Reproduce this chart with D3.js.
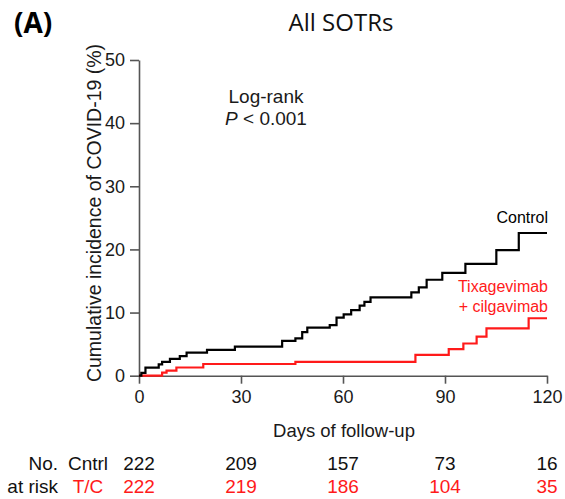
<!DOCTYPE html>
<html lang="en">
<head>
    <meta charset="UTF-8">
    <title>All SOTRs - cumulative incidence</title>
    <script src="https://cdn.jsdelivr.net/npm/d3@7"></script>
    <style>
        body{ margin:0; background:#fff; }
        text{ font-family: "Liberation Sans", Arial, sans-serif; fill:#1a1a1a; }
        .axis path, .axis line{ stroke:#555; stroke-width:1.6px; }
        .axis text{ font-size:18px; fill:#1a1a1a; }
    </style>
</head>
<body>
<div class="container"></div>
<script>
    // ---------- data ----------
    // step points: [day, cumulative incidence %]
    const controlSteps = [
        [0,0],[0.7,0.45],[1.9,1.27],[5.8,1.8],[6.8,2.2],[9.1,2.65],[12,3.1],[14,3.65],
        [20,4.1],[28.2,4.6],[42.1,5.5],[46,5.9],[48,6.9],[49.5,7.6],[56.1,8.0],[58.1,9.2],
        [60.2,9.7],[62.4,10.4],[64.9,11.1],[66.3,11.7],[68.1,12.4],[80.1,13.2],[82.3,14.0],
        [84.6,15.2],[89.2,16.3],[96,17.7],[105.1,19.9],[111.7,22.6],[120,22.6]
    ]
    const tcSteps = [
        [0,0],[6.8,0.5],[8.1,0.8],[11,1.3],[18.9,1.85],[46,2.2],[81.3,3.3],[91.1,4.2],
        [95.4,5.1],[99.3,6.2],[102.2,7.5],[114.6,9.1],[120,9.1]
    ]
    const xTicks = [0,30,60,90,120]
    const yTicks = [0,10,20,30,40,50]
    const riskDays = [0,30,60,90,120]
    const riskControl = [222,209,157,73,16]
    const riskTC = [222,219,186,104,35]

    // ---------- containers ----------
    const W = 565, H = 499
    const svg = d3.select('.container').append('svg')
        .attr('width',W).attr('height',H)

    const x = d3.scaleLinear().domain([0,120]).range([139,547])
    const y = d3.scaleLinear().domain([0,50]).range([375.7,60])

    // axes
    svg.append('g').attr('class','axis')
        .attr('transform',`translate(0,${y(0)})`)
        .call(d3.axisBottom(x).tickValues(xTicks).tickSize(8).tickPadding(6).tickSizeOuter(0))
        .selectAll('text').attr('dy','0.75em')
    svg.append('g').attr('class','axis')
        .attr('transform',`translate(${x(0)},0)`)
        .call(d3.axisLeft(y).tickValues(yTicks).tickSize(9).tickPadding(5).tickSizeOuter(0))

    // curves
    const line = d3.line().x(d=>x(d[0])).y(d=>y(d[1])).curve(d3.curveStepAfter)
    svg.append('path').datum(tcSteps)
        .attr('d',line).attr('fill','none').attr('stroke','#ff1a1a').attr('stroke-width',2.2)
    svg.append('path').datum(controlSteps)
        .attr('d',line).attr('fill','none').attr('stroke','#000').attr('stroke-width',2.2)

    // titles
    svg.append('text').attr('x',14).attr('y',33)
        .style('font-family','"Open Sans", sans-serif').style('font-weight','bold')
        .style('font-size','28px').style('fill','#000').text('(A)')
    svg.append('text').attr('x',341).attr('y',31).attr('text-anchor','middle')
        .style('font-family','"Open Sans", sans-serif').style('font-size','24px')
        .style('fill','#111').text('All SOTRs')

    // axis labels
    svg.append('text').attr('transform',`translate(101,213)rotate(-90)`)
        .attr('text-anchor','middle').style('font-size','19.5px')
        .text('Cumulative incidence of COVID-19 (%)')
    svg.append('text').attr('x',344).attr('y',437).attr('text-anchor','middle')
        .style('font-size','18.5px').text('Days of follow-up')

    // log-rank
    svg.append('text').attr('x',266).attr('y',103).attr('text-anchor','middle')
        .style('font-size','19px').text('Log-rank')
    const pTxt = svg.append('text').attr('x',266).attr('y',125).attr('text-anchor','middle')
        .style('font-size','19px')
    pTxt.append('tspan').style('font-style','italic').text('P')
    pTxt.append('tspan').text('  < 0.001')

    // series labels
    svg.append('text').attr('x',548).attr('y',223).attr('text-anchor','end')
        .style('font-size','16px').style('fill','#000').text('Control')
    svg.append('text').attr('x',548).attr('y',292).attr('text-anchor','end')
        .style('font-size','16px').style('fill','#ff1a1a').text('Tixagevimab')
    svg.append('text').attr('x',548).attr('y',312).attr('text-anchor','end')
        .style('font-size','16px').style('fill','#ff1a1a').text('+ cilgavimab')

    // number at risk table
    const rows = [
        {lab:'No.', grp:'Cntrl', vals:riskControl, col:'#111', yy:470},
        {lab:'at risk', grp:'T/C', vals:riskTC, col:'#ff1a1a', yy:493}
    ]
    rows.forEach(r=>{
        svg.append('text').attr('x',58).attr('y',r.yy).attr('text-anchor','end')
            .style('font-size','19px').style('fill','#111').text(r.lab)
        svg.append('text').attr('x',88).attr('y',r.yy).attr('text-anchor','middle')
            .style('font-size','19px').style('fill',r.col).text(r.grp)
        svg.append('g').selectAll('text').data(r.vals).join('text')
            .attr('x',(d,i)=>x(riskDays[i])).attr('y',r.yy).attr('text-anchor','middle')
            .style('font-size','19px').style('fill',r.col).text(d=>d)
    })
</script>
</body>
</html>
